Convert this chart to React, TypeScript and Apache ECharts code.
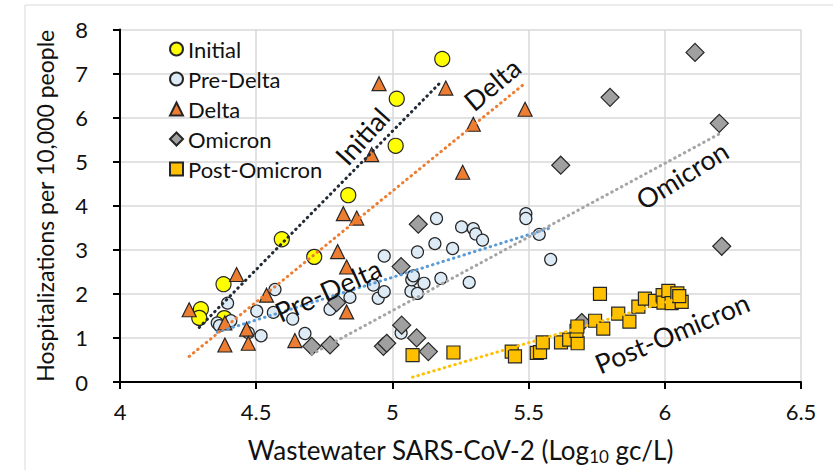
import React, { useEffect, useRef } from "react";
import * as echarts from "echarts";

// ---- data (x = Log10 gc/L, y = hospitalizations per 10,000) ----
const seriesNames = ["Initial", "Pre-Delta", "Delta", "Omicron", "Post-Omicron"];

const initialPoints = [
  [4.297, 1.65], [4.291, 1.455], [4.38, 2.22], [4.383, 1.45], [4.594, 3.24],
  [4.713, 2.84], [4.838, 4.24], [5.016, 6.43], [5.012, 5.36], [5.183, 7.33],
];

const preDeltaPoints = [
  [4.357, 1.34], [4.365, 1.28], [4.407, 1.39], [4.395, 1.79], [4.471, 1.12],
  [4.502, 1.61], [4.518, 1.05], [4.563, 1.58], [4.569, 2.1], [4.634, 1.43],
  [4.679, 1.1], [4.771, 1.65], [4.844, 1.92], [4.93, 2.2], [4.948, 1.9],
  [4.97, 2.05], [4.97, 2.86], [5.032, 1.11], [5.068, 2.06], [5.071, 2.32],
  [5.077, 2.41], [5.092, 2.01], [5.092, 2.95], [5.116, 2.24], [5.156, 3.14],
  [5.162, 3.71], [5.178, 2.35], [5.221, 3.03], [5.254, 3.52], [5.282, 2.26],
  [5.297, 3.48], [5.306, 3.36], [5.331, 3.22], [5.49, 3.82], [5.49, 3.71],
  [5.539, 3.35], [5.581, 2.78],
];

const deltaPoints = [
  [4.254, 1.64], [4.385, 1.34], [4.385, 0.84], [4.428, 2.44], [4.465, 1.2],
  [4.471, 0.88], [4.538, 1.97], [4.642, 0.94], [4.799, 2.96], [4.82, 3.82],
  [4.832, 2.61], [4.832, 1.59], [4.869, 3.72], [4.924, 5.16], [4.951, 6.77],
  [5.196, 6.67], [5.258, 4.76], [5.297, 5.85], [5.487, 6.19],
];

const omicronPoints = [
  [4.704, 0.81], [4.771, 0.84], [4.795, 1.8], [4.967, 0.81], [4.979, 0.88],
  [5.032, 2.62], [5.034, 1.29], [5.089, 1.0], [5.095, 3.58], [5.132, 0.69],
  [5.618, 4.92], [5.695, 1.35], [5.799, 6.46], [6.111, 7.48], [6.2, 5.87],
  [6.209, 3.08],
];

const postOmicronPoints = [
  [5.074, 0.61], [5.224, 0.67], [5.438, 0.69], [5.45, 0.58], [5.53, 0.66],
  [5.542, 0.68], [5.552, 0.9], [5.619, 0.9], [5.649, 0.96], [5.68, 0.88],
  [5.676, 1.16], [5.679, 1.26], [5.744, 1.39], [5.762, 2.0], [5.774, 1.21],
  [5.829, 1.55], [5.87, 1.37], [5.903, 1.71], [5.927, 1.89], [5.964, 1.84],
  [5.992, 1.97], [5.995, 1.8], [6.013, 2.07], [6.025, 1.79], [6.046, 2.01],
  [6.062, 1.82], [6.053, 1.95],
];

// trendline end points
const initialTrend = [[4.291, 1.24], [5.183, 6.84]];
const preDeltaTrend = [[4.357, 1.13], [5.581, 3.5]];
const deltaTrend = [[4.254, 0.58], [5.487, 6.78]];
const omicronTrend = [[4.704, 0.63], [6.209, 5.66]];
const postOmicronTrend = [[5.074, 0.11], [6.062, 1.92]];

const xTicks = { min: 4, max: 6.5, interval: 0.5 };
const yTicks = { min: 0, max: 8, interval: 1 };

const FONT = 'Lato, "Noto Sans", sans-serif';
const EDGE = "#262626";

export default function App() {
  const ref = useRef<HTMLDivElement>(null);
  useEffect(() => {
    document.body.style.margin = "0";
    const chart = echarts.init(ref.current!, null, { renderer: "svg" });

    const scatter = (name: string, data: number[][], symbol: string, size: number, color: string) => ({
      type: "scatter",
      name,
      data,
      symbol,
      symbolSize: size,
      itemStyle: { color, borderColor: EDGE, borderWidth: 1.2, opacity: 1 },
      z: 3,
    });
    const trend = (name: string, data: number[][], color: string) => ({
      type: "line",
      name,
      data,
      symbol: "none",
      silent: true,
      z: 4,
      lineStyle: { color, width: 3, type: [0.5, 5], cap: "round" },
    });

    const labelStyle = (text: string, x: number, y: number, deg: number) => ({
      type: "text",
      x,
      y,
      rotation: (deg * Math.PI) / 180,
      z: 10,
      style: {
        text,
        font: `27px ${FONT}`,
        fill: "#111",
        textAlign: "center",
        textVerticalAlign: "middle",
      },
    });

    chart.setOption({
      animation: false,
      backgroundColor: "#fff",
      grid: { left: 120, right: 32, top: 29.5, bottom: 87, containLabel: false },
      legend: {
        data: seriesNames,
        orient: "vertical",
        left: 164,
        top: 33,
        itemWidth: 13,
        itemHeight: 13,
        itemGap: 8,
        textStyle: { fontFamily: FONT, fontSize: 22, color: "#111" },
      },
      xAxis: {
        type: "value",
        min: xTicks.min,
        max: xTicks.max,
        interval: xTicks.interval,
        name: "Wastewater SARS-CoV-2 (Log{sub|10} gc/L)",
        nameLocation: "middle",
        nameGap: 53,
        nameTextStyle: {
          fontFamily: FONT,
          fontSize: 26,
          color: "#111",
          rich: { sub: { fontFamily: FONT, fontSize: 17, color: "#111", verticalAlign: "bottom", padding: [13, 0, 0, 0] } },
        },
        axisLine: { show: true, lineStyle: { color: "#000", width: 2 } },
        axisTick: { show: true, length: 7, lineStyle: { color: "#000", width: 2 } },
        axisLabel: {
          margin: 18,
          fontFamily: FONT,
          fontSize: 22,
          color: "#111",
          formatter: (v: number) => String(v),
        },
        splitLine: { show: true, lineStyle: { color: "#d9d9d9", width: 1.5 } },
      },
      yAxis: {
        type: "value",
        min: yTicks.min,
        max: yTicks.max,
        interval: yTicks.interval,
        name: "Hospitalizations per 10,000 people",
        nameLocation: "middle",
        nameGap: 64,
        nameTextStyle: { fontFamily: FONT, fontSize: 23, color: "#111" },
        axisLine: { show: true, lineStyle: { color: "#000", width: 2 } },
        axisTick: { show: true, length: 7, lineStyle: { color: "#000", width: 2 } },
        axisLabel: { margin: 32, fontFamily: FONT, fontSize: 22, color: "#111" },
        splitLine: { show: true, lineStyle: { color: "#d9d9d9", width: 1.5 } },
      },
      series: [
        scatter("Initial", initialPoints, "circle", 15, "#ffff00"),
        scatter("Pre-Delta", preDeltaPoints, "circle", 12, "#ddebf7"),
        scatter("Delta", deltaPoints, "triangle", 14, "#ed7d31"),
        scatter("Omicron", omicronPoints, "diamond", 18, "#a0a0a0"),
        scatter("Post-Omicron", postOmicronPoints, "rect", 13, "#ffc000"),
        trend("Initial trend", initialTrend, "#222a35"),
        trend("Pre-Delta trend", preDeltaTrend, "#5b9bd5"),
        trend("Delta trend", deltaTrend, "#ed7d31"),
        trend("Omicron trend", omicronTrend, "#a5a5a5"),
        trend("Post-Omicron trend", postOmicronTrend, "#ffc000"),
      ],
      graphic: [
        { type: "line", shape: { x1: 25, y1: 5, x2: 833, y2: 5 }, style: { stroke: "#d9d9d9", lineWidth: 1 }, z: -1 },
        { type: "line", shape: { x1: 25, y1: 5, x2: 25, y2: 470 }, style: { stroke: "#d9d9d9", lineWidth: 1 }, z: -1 },
        labelStyle("Initial", 362, 136, 48),
        labelStyle("Delta", 492, 84, 40),
        labelStyle("Pre-Delta", 328, 290, 24.5),
        labelStyle("Omicron", 682, 175, 32),
        labelStyle("Post-Omicron", 672, 333, 23),
      ],
    });
    return () => chart.dispose();
  }, []);
  return <div ref={ref} style={{ width: 833, height: 470 }} />;
}
